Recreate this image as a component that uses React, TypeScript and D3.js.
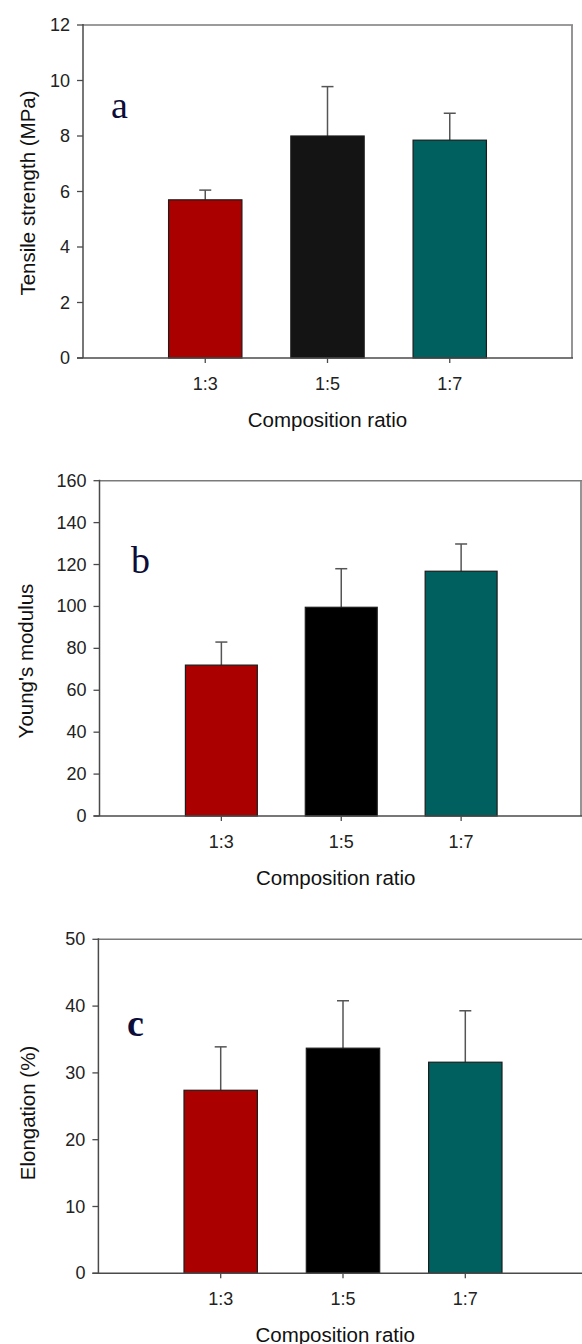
import React from "react";
import * as d3 from "d3";

// ---------- data ----------
const categories = ["1:3", "1:5", "1:7"];

const tensileMean = [5.7, 8.0, 7.85];
const tensileErr = [0.35, 1.78, 0.97];
const tensileTicks = [0, 2, 4, 6, 8, 10, 12];

const youngMean = [72, 99.6, 116.8];
const youngErr = [11, 18.4, 13];
const youngTicks = [0, 20, 40, 60, 80, 100, 120, 140, 160];

const elongMean = [27.4, 33.7, 31.6];
const elongErr = [6.5, 7.1, 7.7];
const elongTicks = [0, 10, 20, 30, 40, 50];

const yTitles = ["Tensile strength (MPa)", "Young's modulus", "Elongation (%)"];
const panelLabels = ["a", "b", "c"];
const xTitle = "Composition ratio";

// ---------- layout / style ----------
const W = 582;
const H = 1344;

const layouts = [
  { left: 83, right: 572, top: 25, bottom: 358, xr0: 83, titleX: 27, titleY: 193, lx: 111, ly: 118, bold: false, rightBorder: true },
  { left: 99.5, right: 581, top: 480.7, bottom: 816, xr0: 101.5, titleX: 25, titleY: 661, lx: 131, ly: 573, bold: false, rightBorder: true },
  { left: 98.4, right: 587.6, top: 939.3, bottom: 1273.3, xr0: 98.4, titleX: 27, titleY: 1113, lx: 127, ly: 1036, bold: true, rightBorder: false },
];

const barColors = [
  ["#aa0000", "#141414", "#006060"],
  ["#aa0000", "#000000", "#006060"],
  ["#aa0000", "#000000", "#006060"],
];

const sans = "'Liberation Sans', Arial, sans-serif";
const serif = "'Liberation Serif', 'Times New Roman', serif";

type PanelProps = {
  means: number[];
  errs: number[];
  ticks: number[];
  yTitle: string;
  label: string;
  L: (typeof layouts)[number];
  colors: string[];
};

function Panel({ means, errs, ticks, yTitle, label, L, colors }: PanelProps) {
  const yMax = ticks[ticks.length - 1];
  const y = d3.scaleLinear().domain([0, yMax]).range([L.bottom, L.top]);
  const x = d3.scaleLinear().domain([0, categories.length + 1]).range([L.xr0, L.right]);
  const step = x(1) - x(0);
  const bw = step * 0.6;
  const capW = 12;

  return (
    <g>
      {/* top & right frame */}
      <line x1={L.left} x2={L.right + 1} y1={L.top} y2={L.top} stroke="#7a7a7a" strokeWidth={1.6} />
      {L.rightBorder && (
        <line x1={L.right} x2={L.right} y1={L.top} y2={L.bottom} stroke="#8a8a8a" strokeWidth={1.8} />
      )}

      {/* bars */}
      {categories.map((c, i) => {
        const cx = x(i + 1);
        const top = y(means[i]);
        const et = y(means[i] + errs[i]);
        return (
          <g key={c}>
            <line x1={cx} x2={cx} y1={top} y2={et} stroke="#555" strokeWidth={1.5} />
            <line x1={cx - capW / 2} x2={cx + capW / 2} y1={et} y2={et} stroke="#555" strokeWidth={1.5} />
            <rect
              x={cx - bw / 2}
              y={top}
              width={bw}
              height={L.bottom - top}
              fill={colors[i]}
              stroke="#1c1c1c"
              strokeWidth={1.2}
            />
          </g>
        );
      })}

      {/* left axis */}
      <line x1={L.left} x2={L.left} y1={L.top - 1} y2={L.bottom} stroke="#4a4a4a" strokeWidth={1.5} />
      {ticks.map((t) => (
        <g key={t}>
          <line x1={L.left - 6} x2={L.left} y1={y(t)} y2={y(t)} stroke="#4a4a4a" strokeWidth={1.3} />
          <text
            x={L.left - 13}
            y={y(t)}
            textAnchor="end"
            dominantBaseline="central"
            fontFamily={sans}
            fontSize={18}
            fill="#222"
          >
            {t}
          </text>
        </g>
      ))}

      {/* bottom axis */}
      <line x1={L.left - 6} x2={L.right + 1} y1={L.bottom} y2={L.bottom} stroke="#4a4a4a" strokeWidth={1.5} />
      {categories.map((c, i) => (
        <g key={c}>
          <line x1={x(i + 1)} x2={x(i + 1)} y1={L.bottom} y2={L.bottom + 5} stroke="#4a4a4a" strokeWidth={1.3} />
          <text
            x={x(i + 1)}
            y={L.bottom + 26}
            textAnchor="middle"
            dominantBaseline="central"
            fontFamily={sans}
            fontSize={18}
            fill="#222"
          >
            {c}
          </text>
        </g>
      ))}

      {/* axis titles */}
      <text
        x={(L.left + Math.min(L.right, 572)) / 2}
        y={L.bottom + 61}
        textAnchor="middle"
        dominantBaseline="central"
        fontFamily={sans}
        fontSize={20.5}
        fill="#111"
      >
        {xTitle}
      </text>
      <text
        transform={`translate(${L.titleX},${L.titleY}) rotate(-90)`}
        textAnchor="middle"
        dominantBaseline="central"
        fontFamily={sans}
        fontSize={20.5}
        fill="#111"
      >
        {yTitle}
      </text>

      {/* panel label */}
      <text
        x={L.lx}
        y={L.ly}
        fontFamily={serif}
        fontSize={38}
        fontWeight={L.bold ? "bold" : "normal"}
        fill="#0d0d3a"
      >
        {label}
      </text>
    </g>
  );
}

export default function App() {
  const series = [
    { means: tensileMean, errs: tensileErr, ticks: tensileTicks },
    { means: youngMean, errs: youngErr, ticks: youngTicks },
    { means: elongMean, errs: elongErr, ticks: elongTicks },
  ];
  return (
    <div style={{ position: "absolute", left: 0, top: 0 }}>
      <svg width={W} height={H} viewBox={`0 0 ${W} ${H}`} style={{ display: "block", background: "#fff" }}>
        <rect x={0} y={0} width={W} height={H} fill="#fff" />
        {series.map((s, i) => (
          <Panel
            key={i}
            means={s.means}
            errs={s.errs}
            ticks={s.ticks}
            yTitle={yTitles[i]}
            label={panelLabels[i]}
            L={layouts[i]}
            colors={barColors[i]}
          />
        ))}
      </svg>
    </div>
  );
}
